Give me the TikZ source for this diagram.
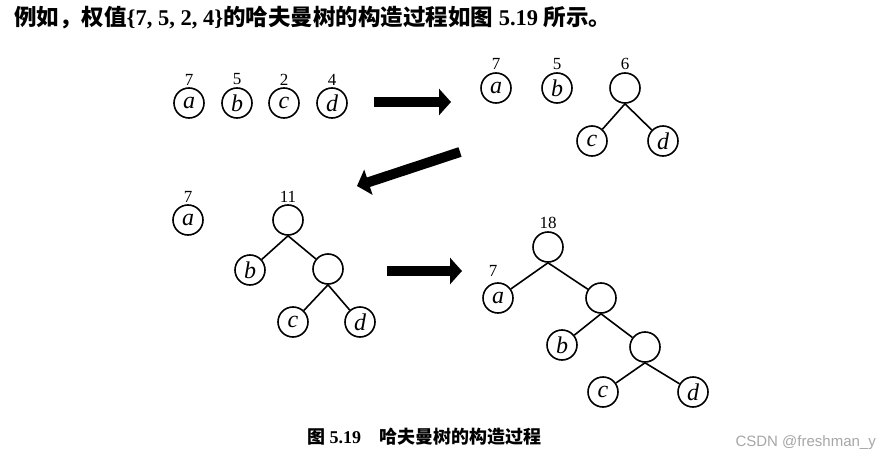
\documentclass[tikz,border=0pt]{standalone}
\usepackage{fontspec}
\setmainfont{Liberation Serif}
\setsansfont{Liberation Sans}
\newfontfamily\cjk{Noto Sans CJK SC}
\usetikzlibrary{positioning,arrows.meta}

\begin{document}
\begin{tikzpicture}[
  x=1pt, y=-1pt,
  node distance=2pt,
  leaf/.style={draw, circle, line width=1.6pt, minimum size=30pt, inner sep=0pt, font=\fontsize{24}{24}\selectfont\itshape},
  wt/.style={inner sep=0pt, font=\fontsize{17}{17}\selectfont},
  edge/.style={line width=1.6pt},
  bigarrow/.style={line width=10pt, -{Triangle[length=12pt,width=26pt]}}
]
  \useasboundingbox (0,0) rectangle (881,460);
  \node[anchor=west, inner sep=0pt, font=\fontsize{22.5}{22.5}\selectfont\bfseries] (title) at (14,18)
    {{\cjk 例如，权值}\{7, 5, 2, 4\}{\cjk 的哈夫曼树的构造过程如图} 5.19 {\cjk 所示。}};

  % step 1: four single trees
  \node[leaf] (a1) at (189,103) {a};
  \node[leaf] (b1) at (237,103) {b};
  \node[leaf] (c1) at (284,103) {c};
  \node[leaf] (d1) at (332,103) {d};
  \node[wt, above=of a1] (wa1) {7};
  \node[wt, above=of b1] (wb1) {5};
  \node[wt, above=of c1] (wc1) {2};
  \node[wt, above=of d1] (wd1) {4};

  % step 2: c and d merged
  \node[leaf] (a2) at (496,88) {a};
  \node[leaf] (b2) at (557,88) {b};
  \node[leaf] (r2) at (625,88) {};
  \node[leaf] (c2) at (592,141) {c};
  \node[leaf] (d2) at (663,141) {d};
  \node[wt, above=of a2] (wa2) {7};
  \node[wt, above=of b2] (wb2) {5};
  \node[wt, above=of r2] (wr2) {6};
  \draw[edge] (r2.south) -- (c2);
  \draw[edge] (r2.south) -- (d2);

  % step 3: b joins
  \node[leaf] (a3) at (188,220) {a};
  \node[leaf] (r3) at (288,220) {};
  \node[leaf] (b3) at (250,270) {b};
  \node[leaf] (n3) at (328,269) {};
  \node[leaf] (c3) at (293,322) {c};
  \node[leaf] (d3) at (360,322) {d};
  \node[wt, above=of a3] (wa3) {7};
  \node[wt, above=of r3] (wr3) {11};
  \draw[edge] (r3.south) -- (b3);
  \draw[edge] (r3.south) -- (n3);
  \draw[edge] (n3.south) -- (c3);
  \draw[edge] (n3.south) -- (d3);

  % step 4: final tree
  \node[leaf] (r4) at (548,247) {};
  \node[leaf] (a4) at (498,298) {a};
  \node[leaf] (n4) at (601,298) {};
  \node[leaf] (b4) at (562,345) {b};
  \node[leaf] (m4) at (645,347) {};
  \node[leaf] (c4) at (603,392) {c};
  \node[leaf] (d4) at (693,392) {d};
  \node[wt, above=of r4] (wr4) {18};
  \node[wt] (wa4) at (493,271) {7};
  \draw[edge] (r4.south) -- (a4);
  \draw[edge] (r4.south) -- (n4);
  \draw[edge] (n4.south) -- (b4);
  \draw[edge] (n4.south) -- (m4);
  \draw[edge] (m4.south) -- (c4);
  \draw[edge] (m4.south) -- (d4);

  % big arrows
  \coordinate (s1) at (374,102);
  \coordinate (e1) at (451,102);
  \coordinate (s2) at (460,152);
  \coordinate (e2) at (357,186);
  \coordinate (s3) at (387,271);
  \coordinate (e3) at (462,271);
  \draw[bigarrow] (s1) -- (e1);
  \draw[bigarrow] (s2) -- (e2);
  \draw[bigarrow] (s3) -- (e3);

  \node[anchor=west, inner sep=0pt, font=\fontsize{18}{18}\selectfont\bfseries] (caption) at (307,437)
    {{\cjk 图} 5.19\quad{\cjk 哈夫曼树的构造过程}};
  \node[anchor=east, inner sep=0pt, text=black!35, font=\sffamily\fontsize{15}{15}\selectfont] (mark) at (876,443)
    {CSDN @freshman\_y};
\end{tikzpicture}
\end{document}
